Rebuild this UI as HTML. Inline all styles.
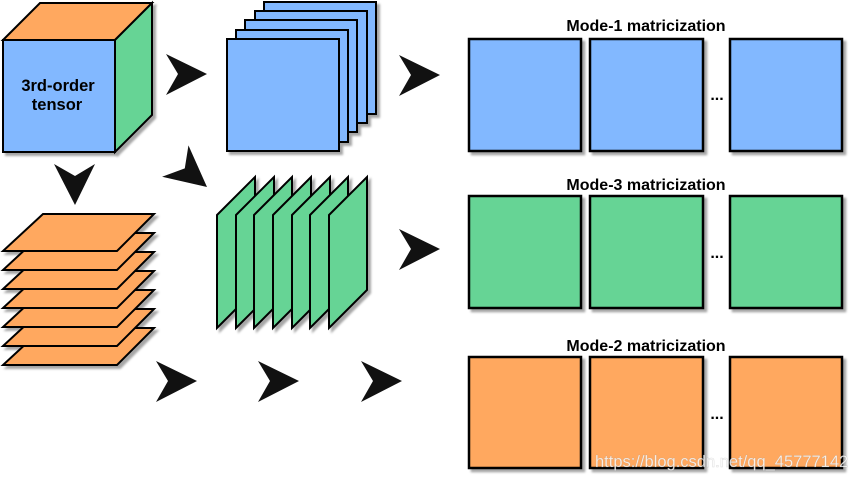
<!DOCTYPE html>
<html><head><style>html,body{margin:0;padding:0;background:#fff;width:850px;height:480px;overflow:hidden}</style></head>
<body>
<svg width="850" height="480" viewBox="0 0 850 480" xmlns="http://www.w3.org/2000/svg" font-family="Liberation Sans, sans-serif">
<defs>
<filter id="s" x="-10%" y="-10%" width="130%" height="130%"><feDropShadow dx="3" dy="3" stdDeviation="1" flood-color="#000" flood-opacity="0.35"/></filter>
<path id="ar" d="M0,0 L-41,-20 L-29,0 L-41,21 Z" fill="#111"/>
</defs>
<g stroke="#000" stroke-width="2" stroke-linejoin="miter">
<g filter="url(#s)">
<polygon points="3,40 40,3 152,3 115,40" fill="#FFA85F"/>
<polygon points="115,40 152,3 152,115 115,152" fill="#66D495"/>
<rect x="3" y="40" width="112" height="112" fill="#82B8FF"/>
</g>
<g filter="url(#s)" fill="#82B8FF">
<rect x="264" y="2" width="112" height="112"/>
<rect x="255" y="11" width="112" height="112"/>
<rect x="245" y="20" width="112" height="112"/>
<rect x="236" y="30" width="112" height="112"/>
<rect x="227" y="39" width="112" height="112"/>
</g>
<g filter="url(#s)" fill="#FFA85F">
<polygon points="43,328 154,328 117,365 3,365"/>
<polygon points="43,309 154,309 117,346 3,346"/>
<polygon points="43,290 154,290 117,327 3,327"/>
<polygon points="43,271 154,271 117,308 3,308"/>
<polygon points="43,252 154,252 117,289 3,289"/>
<polygon points="43,233 154,233 117,270 3,270"/>
<polygon points="43,214 154,214 117,251 3,251"/>
</g>
<g filter="url(#s)" fill="#66D495">
<polygon points="217,215 255,177 255,290 217,328"/>
<polygon points="236,215 274,177 274,290 236,328"/>
<polygon points="254,215 292,177 292,290 254,328"/>
<polygon points="273,215 311,177 311,290 273,328"/>
<polygon points="292,215 330,177 330,290 292,328"/>
<polygon points="310,215 348,177 348,290 310,328"/>
<polygon points="329,215 367,177 367,290 329,328"/>
</g>
<g filter="url(#s)" stroke-width="2.5">
<rect x="469" y="39" width="112" height="112" fill="#82B8FF"/>
<rect x="590" y="39" width="113" height="112" fill="#82B8FF"/>
<rect x="730" y="39" width="112" height="112" fill="#82B8FF"/>
<rect x="469" y="196" width="112" height="112" fill="#66D495"/>
<rect x="590" y="196" width="113" height="112" fill="#66D495"/>
<rect x="730" y="196" width="112" height="112" fill="#66D495"/>
<rect x="469" y="357" width="112" height="111" fill="#FFA85F"/>
<rect x="590" y="357" width="113" height="111" fill="#FFA85F"/>
<rect x="730" y="357" width="112" height="111" fill="#FFA85F"/>
</g>
</g>
<use href="#ar" transform="translate(207,74)"/>
<use href="#ar" transform="translate(75,205) rotate(90)"/>
<use href="#ar" transform="translate(207,187) rotate(40)"/>
<use href="#ar" transform="translate(440,75)"/>
<use href="#ar" transform="translate(440,249)"/>
<use href="#ar" transform="translate(197,381)"/>
<use href="#ar" transform="translate(299,381)"/>
<use href="#ar" transform="translate(402,381)"/>
<text x="58" y="91" font-size="16.5" font-weight="bold" text-anchor="middle">3rd-order</text>
<text x="57" y="110" font-size="16.5" font-weight="bold" text-anchor="middle">tensor</text>
<g font-size="16" font-weight="bold" text-anchor="middle">
<text x="646" y="31">Mode-1 matricization</text>
<text x="646" y="190">Mode-3 matricization</text>
<text x="646" y="351">Mode-2 matricization</text>
<text x="717" y="100">...</text>
<text x="717" y="258">...</text>
<text x="717" y="419">...</text>
</g>
<text x="595" y="467" font-size="16.5" fill="#fff" fill-opacity="0.85" stroke="#888" stroke-opacity="0.3" stroke-width="0.5">https://blog.csdn.net/qq_45777142</text>
</svg>
</body></html>
